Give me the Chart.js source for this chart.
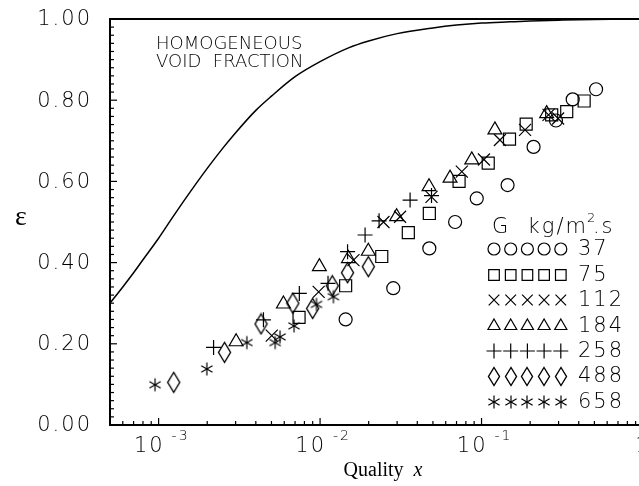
<!DOCTYPE html>
<html>
<head>
<meta charset="utf-8">
<script src="https://cdn.jsdelivr.net/npm/chart.js@4/dist/chart.umd.min.js"></script>
<style>
  html, body { margin: 0; padding: 0; background: #fff; overflow: hidden; }
  #wrap { width: 660px; height: 486px; }
</style>
</head>
<body>
<div id="wrap"><canvas id="chart"></canvas></div>
<script>
// mass flux G, kg/m2.s
const massFluxes = ['37', '75', '112', '184', '258', '488', '658'];

// quality x / void fraction readings, one pair of arrays per G
const x37 = [0.0144, 0.0284, 0.0475, 0.0686, 0.0934, 0.145, 0.21, 0.289, 0.367, 0.512];
const eps37 = [0.26, 0.337, 0.435, 0.50, 0.558, 0.591, 0.685, 0.75, 0.802, 0.827];

const x75 = [0.00741, 0.0144, 0.0241, 0.0352, 0.0475, 0.0726, 0.110, 0.149, 0.189, 0.272, 0.337, 0.432];
const eps75 = [0.265, 0.343, 0.415, 0.474, 0.521, 0.60, 0.645, 0.704, 0.741, 0.764, 0.772, 0.798];

const x112 = [0.00502, 0.0098, 0.0161, 0.0247, 0.0313, 0.049, 0.0755, 0.1035, 0.13, 0.186, 0.26, 0.298];
const eps112 = [0.22, 0.328, 0.406, 0.50, 0.513, 0.562, 0.624, 0.654, 0.702, 0.727, 0.764, 0.755];

const x184 = [0.00302, 0.00593, 0.0099, 0.015, 0.0199, 0.0298, 0.0473, 0.0638, 0.087, 0.121, 0.253];
const eps184 = [0.205, 0.298, 0.39, 0.41, 0.428, 0.513, 0.587, 0.608, 0.653, 0.727, 0.767];

const x258 = [0.00219, 0.00446, 0.00744, 0.0112, 0.0148, 0.019, 0.0232, 0.0361, 0.049];
const eps258 = [0.191, 0.259, 0.324, 0.349, 0.427, 0.468, 0.503, 0.554, 0.565];

const x488 = [0.00124, 0.00256, 0.00431, 0.00678, 0.009, 0.0119, 0.0148, 0.0199];
const eps488 = [0.105, 0.179, 0.249, 0.30, 0.287, 0.343, 0.375, 0.39];

const x658 = [0.00095, 0.00199, 0.00352, 0.00527, 0.00565, 0.0069, 0.0095, 0.0121];
const eps658 = [0.099, 0.138, 0.203, 0.203, 0.217, 0.244, 0.297, 0.316];

// homogeneous void fraction curve
const xHom = [5e-4, 6e-4, 7e-4, 8e-4, 1e-3, 1.2e-3, 1.5e-3, 2e-3, 2.5e-3, 3e-3, 4e-3, 5e-3, 7e-3,
  1e-2, 1.5e-2, 2e-2, 3e-2, 5e-2, 7e-2, 0.1, 0.15, 0.2, 0.3, 0.5, 0.7, 1];
const epsHom = [0.30, 0.34, 0.375, 0.407, 0.46, 0.507, 0.563, 0.632, 0.682, 0.72, 0.775, 0.81, 0.858,
  0.895, 0.929, 0.946, 0.964, 0.978, 0.985, 0.99, 0.993, 0.995, 0.997, 0.999, 0.9995, 1.0];

// axis ticks
const yTicks = [0, 0.2, 0.4, 0.6, 0.8, 1.0];
const yTickLabels = ['0.00', '0.20', '0.40', '0.60', '0.80', '1.00'];
const xTicks = [1e-3, 1e-2, 1e-1, 1];
const xTickBases = ['10', '10', '10', '1'];
const xTickExps = ['-3', '-2', '-1', ''];

const SANS = '"DejaVu Sans", sans-serif';
const SERIF = '"Liberation Serif", "DejaVu Serif", serif';

// tall narrow diamond like the original plot symbol
function makeDiamond(w, h) {
  const c = document.createElement('canvas');
  c.width = w + 3; c.height = h + 3;
  const g = c.getContext('2d');
  const cx = c.width / 2, cy = c.height / 2;
  g.strokeStyle = '#000';
  g.lineWidth = 1.4;
  g.beginPath();
  g.moveTo(cx, cy - h / 2);
  g.lineTo(cx + w / 2, cy);
  g.lineTo(cx, cy + h / 2);
  g.lineTo(cx - w / 2, cy);
  g.closePath();
  g.stroke();
  return c;
}

// six-armed asterisk
function makeAsterisk(r) {
  const c = document.createElement('canvas');
  c.width = c.height = Math.ceil(2 * r + 3);
  const g = c.getContext('2d');
  const m = c.width / 2;
  g.strokeStyle = '#000';
  g.lineWidth = 1.2;
  [90, 30, 150].forEach((deg) => {
    const t = deg * Math.PI / 180;
    g.beginPath();
    g.moveTo(m - r * Math.cos(t), m - r * Math.sin(t));
    g.lineTo(m + r * Math.cos(t), m + r * Math.sin(t));
    g.stroke();
  });
  return c;
}

const styles = [
  { pointStyle: 'circle', radius: 6.5 },
  { pointStyle: 'rect', radius: 8.5 },
  { pointStyle: 'crossRot', radius: 8.5 },
  { pointStyle: 'triangle', radius: 8 },
  { pointStyle: 'cross', radius: 7.5 },
  { pointStyle: makeDiamond(12, 20), radius: 8 },
  { pointStyle: makeAsterisk(6.5), radius: 7 },
];

const legendStyles = [
  { pointStyle: 'circle', radius: 6 },
  { pointStyle: 'rect', radius: 7.5 },
  { pointStyle: 'crossRot', radius: 7.5 },
  { pointStyle: 'triangle', radius: 7 },
  { pointStyle: 'cross', radius: 7.5 },
  { pointStyle: makeDiamond(11, 18) },
  { pointStyle: makeAsterisk(6.5) },
];

const seriesX = [x37, x75, x112, x184, x258, x488, x658];
const seriesY = [eps37, eps75, eps112, eps184, eps258, eps488, eps658];

const datasets = massFluxes.map((g, i) => ({
  label: 'G = ' + g,
  data: seriesX[i].map((v, j) => ({ x: v, y: seriesY[i][j] })),
  showLine: false,
  pointStyle: styles[i].pointStyle,
  pointRadius: styles[i].radius,
  pointBorderColor: '#000',
  pointBackgroundColor: 'rgba(0,0,0,0)',
  pointBorderWidth: 1.2,
}));

datasets.unshift({
  label: 'Homogeneous',
  data: xHom.map((v, j) => ({ x: v, y: epsHom[j] })),
  showLine: true,
  borderColor: '#000',
  borderWidth: 1.5,
  pointRadius: 0,
  cubicInterpolationMode: 'monotone',
});

function line(ctx, x1, y1, x2, y2) {
  ctx.beginPath(); ctx.moveTo(x1, y1); ctx.lineTo(x2, y2); ctx.stroke();
}

function legendMark(ctx, st, x, y) {
  if (typeof st.pointStyle !== 'string') {
    ctx.drawImage(st.pointStyle, Math.round(x - st.pointStyle.width / 2), Math.round(y - st.pointStyle.height / 2));
    return;
  }
  Chart.helpers.drawPoint(ctx, { pointStyle: st.pointStyle, radius: st.radius, rotation: 0, borderWidth: 1.2 }, x, y);
}

const decor = {
  id: 'decor',
  afterDraw(chart) {
    const { ctx, chartArea: a, scales: { x, y } } = chart;
    ctx.save();
    ctx.strokeStyle = '#000';
    ctx.fillStyle = '#000';
    ctx.lineWidth = 2;
    line(ctx, a.left, a.top, a.right, a.top);

    // inward ticks
    ctx.lineWidth = 1.2;
    for (let i = 0; i <= 50; i++) {
      const py = y.getPixelForValue(i / 50);
      line(ctx, a.left, py, a.left + (i % 10 === 0 ? 7 : 4), py);
    }
    for (let e = -4; e <= 0; e++) {
      for (let k = 1; k <= 9; k++) {
        const v = k * Math.pow(10, e);
        if (v < x.min * 1.0001 || v > x.max * 1.0001) continue;
        const px = x.getPixelForValue(v);
        line(ctx, px, a.bottom, px, a.bottom - (k === 1 ? 7 : 4));
      }
    }

    // tick labels
    ctx.letterSpacing = '2px';
    ctx.font = '200 21px ' + SANS;
    ctx.textAlign = 'right';
    ctx.textBaseline = 'middle';
    yTicks.forEach((v, i) => ctx.fillText(yTickLabels[i], 92, y.getPixelForValue(v) + 1));

    ctx.textBaseline = 'alphabetic';
    xTicks.forEach((v, i) => {
      const px = x.getPixelForValue(v);
      ctx.font = '200 21px ' + SANS;
      if (xTickExps[i]) {
        ctx.textAlign = 'right';
        ctx.fillText(xTickBases[i], px + 6, 452);
        ctx.font = '200 14px ' + SANS;
        ctx.textAlign = 'left';
        ctx.fillText(xTickExps[i], px + 13, 440);
      } else {
        ctx.textAlign = 'center';
        ctx.fillText(xTickBases[i], px, 452);
      }
    });

    // annotation
    ctx.letterSpacing = '0px';
    ctx.font = '200 18px ' + SANS;
    ctx.textAlign = 'left';
    ctx.fillText('HOMOGENEOUS', 156, 49);
    ctx.fillText('VOID  FRACTION', 156, 67);

    // legend
    ctx.letterSpacing = '2px';
    ctx.font = '200 21px ' + SANS;
    ctx.fillText('G  kg/m', 492, 233);
    const wm = ctx.measureText('G  kg/m').width;
    ctx.font = '200 13px ' + SANS;
    ctx.fillText('2', 492 + wm - 1, 222);
    ctx.font = '200 21px ' + SANS;
    ctx.fillText('.s', 492 + wm + 5, 233);

    ctx.lineWidth = 1.2;
    ctx.fillStyle = 'rgba(0,0,0,0)';
    const rowY = [249, 275, 300, 326, 351, 376, 402];
    massFluxes.forEach((g, i) => {
      for (let k = 0; k < 5; k++) legendMark(ctx, legendStyles[i], 494 + k * 16.7, rowY[i]);
    });
    ctx.fillStyle = '#000';
    ctx.textBaseline = 'middle';
    massFluxes.forEach((g, i) => ctx.fillText(g, 578, rowY[i] + 1));

    // axis titles
    ctx.letterSpacing = '0px';
    ctx.textAlign = 'center';
    ctx.font = '28px ' + SERIF;
    ctx.fillText('\u03b5', 21, 218);
    ctx.textAlign = 'left';
    ctx.textBaseline = 'alphabetic';
    ctx.font = '20px ' + SERIF;
    const q = 'Quality  ';
    const qw = ctx.measureText(q).width;
    ctx.font = 'italic 20px ' + SERIF;
    const xw = ctx.measureText('x').width;
    const qx = 383 - (qw + xw) / 2;
    ctx.font = '20px ' + SERIF;
    ctx.fillText(q, qx, 476);
    ctx.font = 'italic 20px ' + SERIF;
    ctx.fillText('x', qx + qw, 476);
    ctx.restore();
  }
};

new Chart(document.getElementById('chart'), {
  type: 'scatter',
  data: { datasets },
  options: {
    responsive: true,
    maintainAspectRatio: false,
    animation: false,
    layout: { padding: { top: 19, right: 17, left: 0, bottom: 0 } },
    plugins: { legend: { display: false }, tooltip: { enabled: false } },
    scales: {
      x: {
        type: 'logarithmic',
        min: 5e-4,
        max: 1,
        ticks: { display: false },
        grid: { display: false },
        border: { display: true, color: '#000', width: 2 },
        afterFit(s) { s.height = 61; },
      },
      y: {
        min: 0,
        max: 1,
        ticks: { display: false },
        grid: { display: false },
        border: { display: true, color: '#000', width: 2 },
        afterFit(s) { s.width = 110; },
      },
    },
  },
  plugins: [decor],
});
</script>
</body>
</html>
